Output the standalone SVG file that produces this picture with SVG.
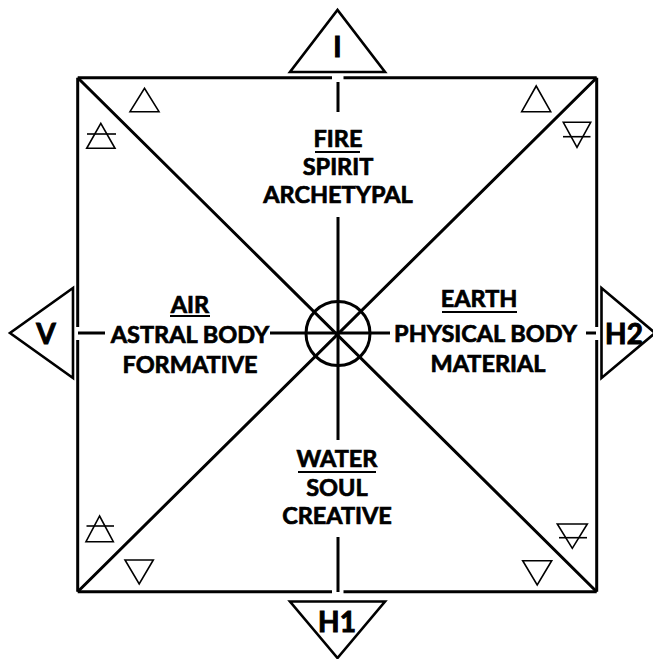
<svg xmlns="http://www.w3.org/2000/svg" width="653" height="659" viewBox="0 0 653 659">
<style>
.ln{stroke:#000;stroke-width:3;fill:none;stroke-linecap:butt}
.tri{stroke:#000;stroke-width:2.6;fill:#fff;stroke-linejoin:miter}
.sym{stroke:#000;stroke-width:1.6;fill:none}
.t{font-family:Lato,"Liberation Sans",sans-serif;font-weight:bold;font-size:23.5px;fill:#000;stroke:#000;stroke-width:0.7;text-anchor:middle}
.big{font-family:Lato,"Liberation Sans",sans-serif;font-weight:bold;font-size:28px;fill:#000;stroke:#000;stroke-width:1;text-anchor:middle}
.ul{stroke:#000;stroke-width:2}
</style>
<rect width="653" height="659" fill="#fff"/>
<g id="frame">
<path class="ln" d="M77.7,77.7H332 M343.5,77.7H596.7 M596.7,77.7V327 M596.7,340V591.7 M596.7,591.7H343.5 M332,591.7H77.7 M77.7,591.7V340 M77.7,327V77.7"/>
</g>
<g id="connectors">
<path class="ln" d="M77.7,77.7L596.7,591.7 M596.7,77.7L77.7,591.7"/>
<path class="ln" d="M338,82V112 M338,217V440 M338,537V592"/>
<path class="ln" d="M78,333H105 M270,333H390 M586,333H596"/>
<circle class="ln" cx="338" cy="333.5" r="32"/>
</g>
<g id="node-I">
<polygon class="tri" points="290,72 385,72 337.5,10"/>
<text class="big" x="337.5" y="57">I</text>
</g>
<g id="node-V">
<polygon class="tri" points="73,288 73,378 10,333"/>
<text class="big" x="46" y="343.5">V</text>
</g>
<g id="node-H2">
<polygon class="tri" points="601.5,288 601.5,378 655,333"/>
<text class="big" x="624" y="343.5">H2</text>
</g>
<g id="node-H1">
<polygon class="tri" points="290,601.5 385,601.5 337.5,658"/>
<text class="big" x="337" y="632">H1</text>
</g>
<g id="fire">
<text class="t" x="338" y="147">FIRE</text>
<line class="ul" x1="315" y1="152" x2="360" y2="152"/>
<text class="t" x="338" y="175">SPIRIT</text>
<text class="t" x="338" y="203">ARCHETYPAL</text>
</g>
<g id="air">
<text class="t" x="190" y="313">AIR</text>
<line class="ul" x1="170" y1="316" x2="210" y2="316"/>
<text class="t" x="190" y="343">ASTRAL BODY</text>
<text class="t" x="190" y="373">FORMATIVE</text>
</g>
<g id="earth">
<text class="t" x="479" y="307">EARTH</text>
<line class="ul" x1="442" y1="312" x2="517" y2="312"/>
<text class="t" x="485.5" y="342">PHYSICAL BODY</text>
<text class="t" x="488" y="372">MATERIAL</text>
</g>
<g id="water">
<text class="t" x="337" y="467">WATER</text>
<line class="ul" x1="298" y1="472" x2="376" y2="472"/>
<text class="t" x="337" y="496">SOUL</text>
<text class="t" x="337" y="524">CREATIVE</text>
</g>
<g id="symbols">
<polygon class="sym" points="130,111.7 159,111.7 144.5,88.3"/>
<polygon class="sym" points="86.7,148.3 115,148.3 100.8,123.3"/>
<line class="sym" x1="87" y1="134" x2="116" y2="134"/>
<polygon class="sym" points="521.7,111.7 550.7,111.7 536.2,86"/>
<polygon class="sym" points="563.3,122.3 590.7,122.3 577,147.3"/>
<line class="sym" x1="563" y1="136.7" x2="590.5" y2="136.7"/>
<polygon class="sym" points="86,541.7 113.3,541.7 99.6,516"/>
<line class="sym" x1="86.5" y1="526" x2="114" y2="526"/>
<polygon class="sym" points="125,560 153.3,560 139.2,584"/>
<polygon class="sym" points="557.3,524 587.3,524 572.3,548.3"/>
<line class="sym" x1="559" y1="537.7" x2="587" y2="537.7"/>
<polygon class="sym" points="522.7,560.7 551.7,560.7 537.2,585"/>
</g>
</svg>
